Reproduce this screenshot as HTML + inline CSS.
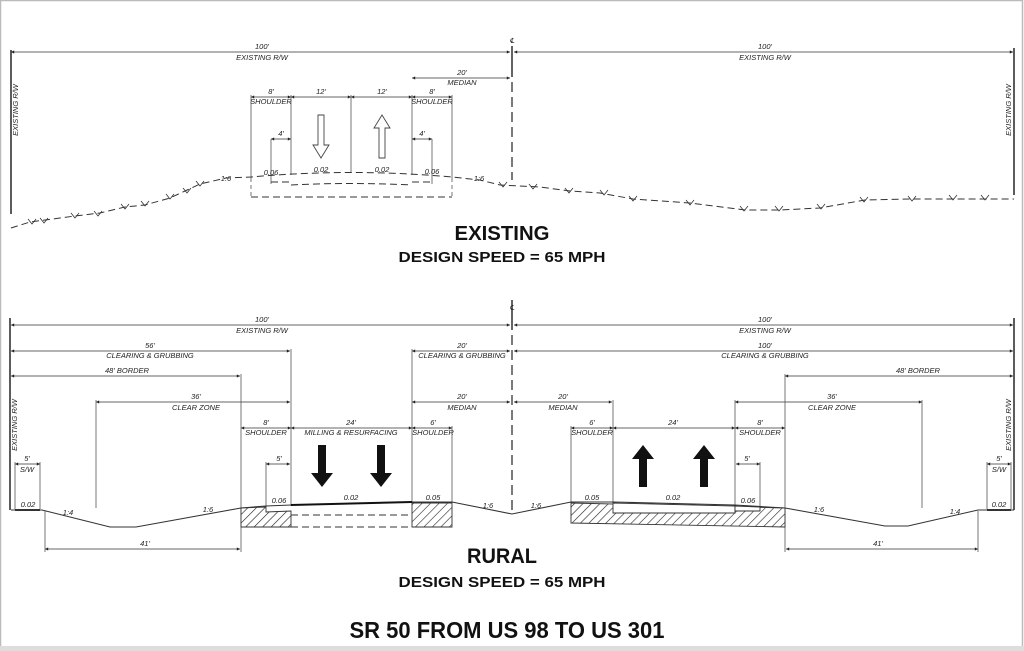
<!DOCTYPE html>
<html><head><meta charset="utf-8"><style>
html,body{margin:0;padding:0;background:#fff;}
svg{display:block;}
.t{font-family:"Liberation Sans",sans-serif;font-style:italic;font-size:7.5px;fill:#222;text-anchor:middle;}
.h{font-family:"Liberation Sans",sans-serif;font-weight:bold;fill:#111;text-anchor:middle;}
.d{stroke:#333;stroke-width:0.8;fill:none;}
.v{stroke:#555;stroke-width:0.8;fill:none;}
.g{stroke:#333;stroke-width:1;fill:none;stroke-dasharray:7,4;}
.s{stroke:#333;stroke-width:1.1;fill:none;}
</style></head><body>
<svg width="1024" height="651" viewBox="0 0 1024 651" xmlns="http://www.w3.org/2000/svg">
<defs>
<marker id="a" viewBox="0 0 10 10" refX="10" refY="5" markerWidth="6" markerHeight="4" orient="auto-start-reverse"><path d="M0,0 L10,5 L0,10 z" fill="#222"/></marker>
<pattern id="hp" width="6" height="6" patternUnits="userSpaceOnUse" patternTransform="rotate(45)"><rect width="6" height="6" fill="#fff"/><line x1="0" y1="0" x2="0" y2="6" stroke="#222" stroke-width="1.2"/></pattern>
</defs>
<rect x="0.5" y="0.5" width="1022" height="649" fill="#fff" stroke="#bbb" stroke-width="1.5"/>
<rect x="0" y="646" width="1024" height="5" fill="#ddd"/>

<!-- ===== EXISTING ===== -->
<g>
<line class="d" x1="11" y1="52" x2="510" y2="52" marker-start="url(#a)" marker-end="url(#a)"/>
<line class="d" x1="514" y1="52" x2="1013" y2="52" marker-start="url(#a)" marker-end="url(#a)"/>
<text class="t" x="262" y="49">100'</text><text class="t" x="262" y="60">EXISTING R/W</text>
<text class="t" x="765" y="49">100'</text><text class="t" x="765" y="60">EXISTING R/W</text>
<text class="t" x="512" y="43" style="font-size:7px">℄</text>
<line x1="11" y1="50" x2="11" y2="214" stroke="#333" stroke-width="1.6"/>
<line x1="1014" y1="48" x2="1014" y2="195" stroke="#333" stroke-width="1.6"/>
<text class="t" transform="translate(18,110) rotate(-90)">EXISTING R/W</text>
<text class="t" transform="translate(1011,110) rotate(-90)">EXISTING R/W</text>
<line x1="512" y1="46" x2="512" y2="77" stroke="#222" stroke-width="1.4"/>
<line x1="512" y1="82" x2="512" y2="180" stroke="#222" stroke-width="1.2" stroke-dasharray="10,5"/>
<line class="d" x1="412" y1="78" x2="510" y2="78" marker-start="url(#a)" marker-end="url(#a)"/>
<text class="t" x="462" y="75">20'</text><text class="t" x="462" y="85">MEDIAN</text>
<line class="d" x1="251" y1="97" x2="291" y2="97" marker-start="url(#a)" marker-end="url(#a)"/>
<line class="d" x1="291" y1="97" x2="351" y2="97" marker-start="url(#a)" marker-end="url(#a)"/>
<line class="d" x1="351" y1="97" x2="412" y2="97" marker-start="url(#a)" marker-end="url(#a)"/>
<line class="d" x1="412" y1="97" x2="452" y2="97" marker-start="url(#a)" marker-end="url(#a)"/>
<text class="t" x="271" y="94">8'</text><text class="t" x="271" y="104">SHOULDER</text>
<text class="t" x="321" y="94">12'</text><text class="t" x="382" y="94">12'</text>
<text class="t" x="432" y="94">8'</text><text class="t" x="432" y="104">SHOULDER</text>
<line class="v" x1="251" y1="95" x2="251" y2="178"/><line class="v" x1="251" y1="178" x2="251" y2="197" stroke-dasharray="4,3"/>
<line class="v" x1="291" y1="95" x2="291" y2="175"/>
<line class="v" x1="351" y1="95" x2="351" y2="173"/>
<line class="v" x1="412" y1="95" x2="412" y2="175"/>
<line class="v" x1="452" y1="95" x2="452" y2="178"/><line class="v" x1="452" y1="178" x2="452" y2="197" stroke-dasharray="4,3"/>
<line class="d" x1="271" y1="139" x2="291" y2="139" marker-start="url(#a)" marker-end="url(#a)"/>
<line class="d" x1="412" y1="139" x2="432" y2="139" marker-start="url(#a)" marker-end="url(#a)"/>
<text class="t" x="281" y="136">4'</text><text class="t" x="422" y="136">4'</text>
<line class="v" x1="271" y1="139" x2="271" y2="184"/><line class="v" x1="432" y1="139" x2="432" y2="184"/>
<path d="M318,115 h6 v30 h5 l-8,13 l-8,-13 h5 z" fill="#fff" stroke="#444" stroke-width="0.9"/>
<path d="M379,158 h6 v-30 h5 l-8,-13 l-8,13 h5 z" fill="#fff" stroke="#444" stroke-width="0.9"/>
<text class="t" x="271" y="175">0.06</text><text class="t" x="321" y="172">0.02</text>
<text class="t" x="382" y="172">0.02</text><text class="t" x="432" y="174">0.06</text>
<text class="t" x="226" y="181">1:6</text><text class="t" x="479" y="181">1:6</text>
<path class="g" d="M11,228 L30,222 L75,216 L100,213 L125,207 L145,205 L170,198 L200,184 L226,178 L251,177 Q351,168 452,177 L480,180 L500,185 L540,187 L570,191 L600,193 L633,199 L690,203 L745,210 L780,210 L820,208 L865,200 L910,199 L1014,199"/>
<path class="g" d="M271,182 L291,182 M291,185 Q351,182 412,185 M412,182 L432,182"/>
<line class="g" x1="251" y1="197" x2="452" y2="197"/>
<g stroke="#333" stroke-width="0.8" fill="none">
<path d="M28,219 l4,5 l4,-5 M40,218 l4,5 l4,-5 M71,213 l4,5 l4,-5 M94,211 l4,5 l4,-5 M121,204 l4,5 l4,-5 M141,201 l4,5 l4,-5 M166,194 l4,5 l4,-5 M183,188 l4,5 l4,-5 M196,181 l4,5 l4,-5 M499,182 l4,5 l4,-5 M529,184 l4,5 l4,-5 M565,188 l4,5 l4,-5 M600,190 l4,5 l4,-5 M629,196 l4,5 l4,-5 M686,200 l4,5 l4,-5 M740,206 l4,5 l4,-5 M775,206 l4,5 l4,-5 M817,204 l4,5 l4,-5 M860,197 l4,5 l4,-5 M908,196 l4,5 l4,-5 M949,195 l4,5 l4,-5 M981,195 l4,5 l4,-5"/>
</g>
<text class="h" x="502" y="240" font-size="20" textLength="95" lengthAdjust="spacingAndGlyphs">EXISTING</text>
<text class="h" x="502" y="262" font-size="15" textLength="207" lengthAdjust="spacingAndGlyphs">DESIGN SPEED = 65 MPH</text>
</g>

<!-- ===== RURAL ===== -->
<g>
<line class="d" x1="11" y1="325" x2="510" y2="325" marker-start="url(#a)" marker-end="url(#a)"/>
<line class="d" x1="514" y1="325" x2="1013" y2="325" marker-start="url(#a)" marker-end="url(#a)"/>
<text class="t" x="262" y="322">100'</text><text class="t" x="262" y="333">EXISTING R/W</text>
<text class="t" x="765" y="322">100'</text><text class="t" x="765" y="333">EXISTING R/W</text>
<text class="t" x="512" y="310" style="font-size:7px">℄</text>
<line class="d" x1="11" y1="351" x2="290" y2="351" marker-start="url(#a)" marker-end="url(#a)"/>
<text class="t" x="150" y="348">56'</text><text class="t" x="150" y="358">CLEARING &amp; GRUBBING</text>
<line class="d" x1="412" y1="351" x2="510" y2="351" marker-start="url(#a)" marker-end="url(#a)"/>
<text class="t" x="462" y="348">20'</text><text class="t" x="462" y="358">CLEARING &amp; GRUBBING</text>
<line class="d" x1="514" y1="351" x2="1013" y2="351" marker-start="url(#a)" marker-end="url(#a)"/>
<text class="t" x="765" y="348">100'</text><text class="t" x="765" y="358">CLEARING &amp; GRUBBING</text>
<line class="d" x1="11" y1="376" x2="240" y2="376" marker-start="url(#a)" marker-end="url(#a)"/>
<text class="t" x="127" y="373">48' BORDER</text>
<line class="d" x1="785" y1="376" x2="1013" y2="376" marker-start="url(#a)" marker-end="url(#a)"/>
<text class="t" x="918" y="373">48' BORDER</text>
<line class="d" x1="96" y1="402" x2="290" y2="402" marker-start="url(#a)" marker-end="url(#a)"/>
<text class="t" x="196" y="399">36'</text><text class="t" x="196" y="410">CLEAR ZONE</text>
<line class="d" x1="735" y1="402" x2="922" y2="402" marker-start="url(#a)" marker-end="url(#a)"/>
<text class="t" x="832" y="399">36'</text><text class="t" x="832" y="410">CLEAR ZONE</text>
<line class="d" x1="412" y1="402" x2="510" y2="402" marker-start="url(#a)" marker-end="url(#a)"/>
<text class="t" x="462" y="399">20'</text><text class="t" x="462" y="410">MEDIAN</text>
<line class="d" x1="514" y1="402" x2="612" y2="402" marker-start="url(#a)" marker-end="url(#a)"/>
<text class="t" x="563" y="399">20'</text><text class="t" x="563" y="410">MEDIAN</text>
<line class="d" x1="241" y1="428" x2="291" y2="428" marker-start="url(#a)" marker-end="url(#a)"/>
<line class="d" x1="291" y1="428" x2="412" y2="428" marker-start="url(#a)" marker-end="url(#a)"/>
<line class="d" x1="412" y1="428" x2="452" y2="428" marker-start="url(#a)" marker-end="url(#a)"/>
<text class="t" x="266" y="425">8'</text><text class="t" x="266" y="435">SHOULDER</text>
<text class="t" x="351" y="425">24'</text><text class="t" x="351" y="435">MILLING &amp; RESURFACING</text>
<text class="t" x="433" y="425">6'</text><text class="t" x="433" y="435">SHOULDER</text>
<line class="d" x1="571" y1="428" x2="613" y2="428" marker-start="url(#a)" marker-end="url(#a)"/>
<line class="d" x1="613" y1="428" x2="735" y2="428" marker-start="url(#a)" marker-end="url(#a)"/>
<line class="d" x1="735" y1="428" x2="785" y2="428" marker-start="url(#a)" marker-end="url(#a)"/>
<text class="t" x="592" y="425">6'</text><text class="t" x="592" y="435">SHOULDER</text>
<text class="t" x="673" y="425">24'</text>
<text class="t" x="760" y="425">8'</text><text class="t" x="760" y="435">SHOULDER</text>
<line class="d" x1="266" y1="464" x2="290" y2="464" marker-start="url(#a)" marker-end="url(#a)"/>
<text class="t" x="279" y="461">5'</text>
<line class="d" x1="736" y1="464" x2="760" y2="464" marker-start="url(#a)" marker-end="url(#a)"/>
<text class="t" x="747" y="461">5'</text>
<line class="d" x1="15" y1="464" x2="40" y2="464" marker-start="url(#a)" marker-end="url(#a)"/>
<text class="t" x="27" y="461">5'</text><text class="t" x="27" y="472">S/W</text>
<line class="d" x1="987" y1="464" x2="1011" y2="464" marker-start="url(#a)" marker-end="url(#a)"/>
<text class="t" x="999" y="461">5'</text><text class="t" x="999" y="472">S/W</text>
<line class="d" x1="45" y1="549" x2="240" y2="549" marker-start="url(#a)" marker-end="url(#a)"/>
<text class="t" x="145" y="546">41'</text>
<line class="d" x1="786" y1="549" x2="978" y2="549" marker-start="url(#a)" marker-end="url(#a)"/>
<text class="t" x="878" y="546">41'</text>
<line x1="10" y1="318" x2="10" y2="510" stroke="#333" stroke-width="1.6"/>
<line x1="1014" y1="318" x2="1014" y2="510" stroke="#333" stroke-width="1.6"/>
<text class="t" transform="translate(17,425) rotate(-90)">EXISTING R/W</text>
<text class="t" transform="translate(1011,425) rotate(-90)">EXISTING R/W</text>
<line x1="512" y1="300" x2="512" y2="330" stroke="#222" stroke-width="1.4"/>
<line x1="512" y1="335" x2="512" y2="512" stroke="#222" stroke-width="1.2" stroke-dasharray="10,5"/>
<g class="v">
<line x1="15" y1="462" x2="15" y2="509"/><line x1="40" y1="462" x2="40" y2="509"/>
<line x1="45" y1="511" x2="45" y2="552"/>
<line x1="96" y1="400" x2="96" y2="508"/>
<line x1="241" y1="374" x2="241" y2="552"/>
<line x1="266" y1="462" x2="266" y2="506"/>
<line x1="291" y1="349" x2="291" y2="506"/>
<line x1="412" y1="349" x2="412" y2="503"/>
<line x1="452" y1="426" x2="452" y2="503"/>
<line x1="571" y1="426" x2="571" y2="503"/>
<line x1="613" y1="400" x2="613" y2="503"/>
<line x1="735" y1="400" x2="735" y2="506"/>
<line x1="760" y1="462" x2="760" y2="506"/>
<line x1="785" y1="374" x2="785" y2="552"/>
<line x1="922" y1="400" x2="922" y2="508"/>
<line x1="978" y1="511" x2="978" y2="552"/>
<line x1="987" y1="462" x2="987" y2="509"/><line x1="1011" y1="462" x2="1011" y2="509"/>
</g>
<path class="s" d="M11,510 L42,510 L110,527 L136,527 L241,508 L266,506 L291,505 L412,502 L452,502 L512,514 L571,502 L613,502 L735,505 L785,508 L885,526 L908,526 L978,510 L1014,510"/>
<line x1="15" y1="510" x2="40" y2="510" stroke="#333" stroke-width="2"/>
<line x1="987" y1="510" x2="1011" y2="510" stroke="#333" stroke-width="2"/>
<line x1="291" y1="505" x2="412" y2="502" stroke="#111" stroke-width="2"/>
<path d="M241,508 L266,507 L266,512 L291,511 L291,527 L241,527 Z" fill="url(#hp)" stroke="#333" stroke-width="0.9"/>
<path d="M412,503 L452,503 L452,527 L412,527 Z" fill="url(#hp)" stroke="#333" stroke-width="0.9"/>
<line class="g" x1="291" y1="515" x2="412" y2="515"/>
<line class="g" x1="291" y1="527" x2="412" y2="527"/>
<path d="M571,503 L785,508 L785,527 L571,523 Z" fill="url(#hp)" stroke="#333" stroke-width="0.9"/>
<path d="M613,503 L735,506 L735,513 L613,513 Z" fill="#fff" stroke="#333" stroke-width="0.9"/>
<path d="M735,506 L760,507 L760,511 L735,511 Z" fill="#fff" stroke="#333" stroke-width="0.9"/>
<text class="t" x="28" y="507">0.02</text><text class="t" x="68" y="515">1:4</text>
<text class="t" x="208" y="512">1:6</text><text class="t" x="279" y="503">0.06</text>
<text class="t" x="351" y="500">0.02</text><text class="t" x="433" y="500">0.05</text>
<text class="t" x="488" y="508">1:6</text><text class="t" x="536" y="508">1:6</text>
<text class="t" x="592" y="500">0.05</text><text class="t" x="673" y="500">0.02</text>
<text class="t" x="748" y="503">0.06</text><text class="t" x="819" y="512">1:6</text>
<text class="t" x="955" y="514">1:4</text><text class="t" x="999" y="507">0.02</text>
<path d="M318,445 h8 v28 h7 l-11,14 l-11,-14 h7 z" fill="#111"/>
<path d="M377,445 h8 v28 h7 l-11,14 l-11,-14 h7 z" fill="#111"/>
<path d="M639,487 h8 v-28 h7 l-11,-14 l-11,14 h7 z" fill="#111"/>
<path d="M700,487 h8 v-28 h7 l-11,-14 l-11,14 h7 z" fill="#111"/>
<text class="h" x="502" y="563" font-size="21" textLength="70" lengthAdjust="spacingAndGlyphs">RURAL</text>
<text class="h" x="502" y="587" font-size="15" textLength="207" lengthAdjust="spacingAndGlyphs">DESIGN SPEED = 65 MPH</text>
<text class="h" x="507" y="638" font-size="23" textLength="315" lengthAdjust="spacingAndGlyphs">SR 50 FROM US 98 TO US 301</text>
</g>
</svg>
</body></html>
